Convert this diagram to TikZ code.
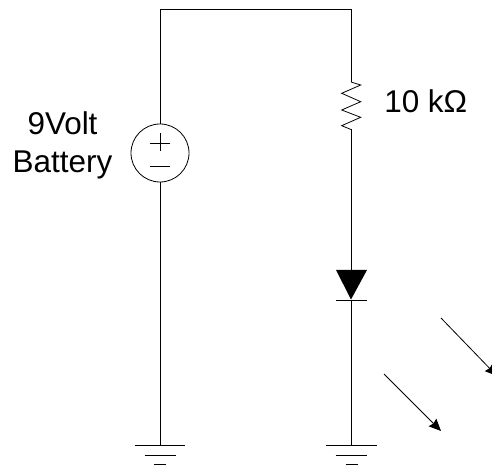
\documentclass[tikz,border=0pt]{standalone}
\usepackage{fontspec}
\setmainfont{Liberation Sans}
\usetikzlibrary{arrows.meta}
\tikzset{
  wire/.style={line width=0.75pt,black},
  thinw/.style={line width=0.6pt,black},
  lbl/.style={inner sep=0pt,font=\fontsize{23.6}{28.3}\selectfont,text=black},
  ray/.style={line width=0.6pt,-{Stealth[length=9pt,width=8pt,inset=1pt]}},
}
\begin{document}
\begin{tikzpicture}[x=0.75pt,y=-0.75pt]
\useasboundingbox (0,0) rectangle (492,466);
\clip (0,0) rectangle (492,466);
\coordinate (tl) at (160,10);
\coordinate (tr) at (351,10);
\node[circle,draw,line width=0.6pt,minimum size=43.5pt,inner sep=0pt] (bat) at (160,153) {};
\coordinate (rt) at (351,82);
\coordinate (rb) at (351,129.5);
\coordinate (dt) at (351,270);
\coordinate (dk) at (351,300);
\coordinate (g1) at (160,445);
\coordinate (g2) at (351,445);
% wires
\draw[wire] (bat.north) -- (tl) -- (tr) -- (rt);
\draw[wire] (bat.south) -- (g1);
\draw[wire] (rb) -- (dt);
\draw[wire] (dk) -- (g2);
% battery signs
\draw[thinw] (150,143.5) -- (170,143.5) (160,133.5) -- (160,151.5);
\draw[thinw] (150,166.7) -- (170,166.7);
% resistor
\draw[thinw,line join=miter] (rt) -- (360.7,85) -- (341.7,93.3) -- (360.7,101.7) -- (341.7,110) -- (360.7,117.3) -- (341.7,125.7) -- (rb);
% diode
\fill[black] (336,270) -- (367,270) -- (351,299.5) -- cycle;
\draw[thinw] (336,300) -- (367,300);
% grounds
\draw[thinw] (134.7,445) -- (185.3,445) (144.5,455) -- (176,455) (154,464.5) -- (166,464.5);
\draw[thinw] (326,445) -- (376.5,445) (335.5,455) -- (367,455) (345.5,464.5) -- (357.5,464.5);
% rays
\coordinate (r1a) at (384,374);
\coordinate (r1b) at (441,431);
\coordinate (r2a) at (441,318);
\coordinate (r2b) at (497,376);
\draw[ray] (r1a) -- (r1b);
\draw[ray] (r2a) -- (r2b);
% labels
\node[lbl,align=center] (batlbl) at (62.5,145.5) {9Volt\\Battery};
\node[lbl,anchor=base west] (reslbl) at (384,112.7) {10 kΩ};
\end{tikzpicture}
\end{document}
